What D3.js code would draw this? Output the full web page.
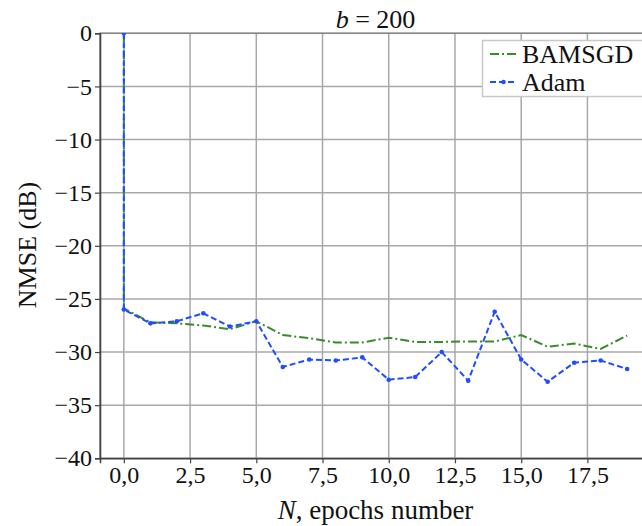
<!DOCTYPE html>
<html><head><meta charset="utf-8">
<script src="https://cdn.jsdelivr.net/npm/d3@7"></script>
<style>body{margin:0;background:#fff}svg{display:block}
svg text{font-family:"Liberation Serif","DejaVu Serif",serif;}
</style>
</head><body>
<svg id="c" width="642" height="526"></svg>
<script>
const epochs = [0, 0, 1, 2, 3, 4, 5, 6, 7, 8, 9, 10, 11, 12, 13, 14, 15, 16, 17, 18, 19];
const bamsgd = [0, -25.9, -27.2, -27.3, -27.5, -27.85, -27.1, -28.4, -28.7, -29.1, -29.1, -28.65, -29.05, -29.05, -29.0, -29.0, -28.4, -29.5, -29.2, -29.7, -28.45];
const adam = [0, -26.0, -27.3, -27.1, -26.35, -27.6, -27.1, -31.4, -30.7, -30.8, -30.5, -32.6, -32.35, -30.0, -32.7, -26.2, -30.7, -32.8, -31.0, -30.8, -31.6];
const xTicks = [0, 2.5, 5, 7.5, 10, 12.5, 15, 17.5];
const yTicks = [0, -5, -10, -15, -20, -25, -30, -35, -40];
const seriesNames = ["BAMSGD", "Adam"];

const svg = d3.select("#c");
const L = 100, R = 651, T = 33.3, B = 458.3;
const x = d3.scaleLinear().domain([-0.9, 19.9]).range([L, R]);
const y = d3.scaleLinear().domain([-40, 0]).range([B, T]);

// grid
const g = svg.append("g");
g.selectAll(".gx").data(xTicks).enter().append("line")
  .attr("x1", d => x(d)).attr("x2", d => x(d)).attr("y1", T).attr("y2", B)
  .attr("stroke", "#a8a8a8").attr("stroke-width", 1.5);
g.selectAll(".gy").data(yTicks).enter().append("line")
  .attr("x1", L).attr("x2", R).attr("y1", d => y(d)).attr("y2", d => y(d))
  .attr("stroke", "#a8a8a8").attr("stroke-width", 1.5);

// frame
svg.append("rect").attr("x", L).attr("y", T).attr("width", R - L).attr("height", B - T)
  .attr("fill", "none").attr("stroke", "#888").attr("stroke-width", 1.5);

// axes
const fmt = d => (d < 0 ? "\u2212" + Math.abs(d) : String(d));
const yAxis = svg.append("g").attr("transform", `translate(${L},0)`)
  .call(d3.axisLeft(y).tickValues(yTicks).tickSize(5).tickPadding(3).tickFormat(fmt));
const xAxis = svg.append("g").attr("transform", `translate(0,${B})`)
  .call(d3.axisBottom(x).tickValues(xTicks).tickSize(5).tickPadding(3)
    .tickFormat(d => d3.format(".1f")(d).replace(".", ",")));
[xAxis, yAxis].forEach(a => {
  a.attr("font-family", null);
  a.selectAll("path").attr("stroke", "#444").attr("stroke-width", 1.6);
  a.selectAll("line").attr("stroke", "#444").attr("stroke-width", 1.2);
  a.selectAll("text").attr("font-size", 24).attr("fill", "#111");
});

// lines
const pts = vals => epochs.map((e, i) => [e, vals[i]]);
const line = d3.line().x(d => x(d[0])).y(d => y(d[1]));
svg.append("clipPath").attr("id", "pc").append("rect")
  .attr("x", L).attr("y", T).attr("width", R - L).attr("height", B - T);
const gl = svg.append("g").attr("clip-path", "url(#pc)");
gl.append("path").datum(pts(bamsgd)).attr("d", line).attr("fill", "none")
  .attr("stroke", "#3a8a2e").attr("stroke-width", 2).attr("stroke-dasharray", "9,3,2,3");
gl.append("path").datum(pts(adam)).attr("d", line).attr("fill", "none")
  .attr("stroke", "#1f4dff").attr("stroke-width", 2).attr("stroke-dasharray", "6,3");
gl.selectAll(".m").data(pts(adam)).enter().append("circle")
  .attr("cx", d => x(d[0])).attr("cy", d => y(d[1])).attr("r", 2.3).attr("fill", "#1f4dff");

// title
const tt = svg.append("text").attr("x", (L + R) / 2).attr("y", 28).attr("text-anchor", "middle")
  .attr("font-size", 26).attr("fill", "#111");
tt.append("tspan").attr("font-style", "italic").text("b");
tt.append("tspan").text(" = 200");

// x label
const xl = svg.append("text").attr("x", (L + R) / 2).attr("y", 519).attr("text-anchor", "middle")
  .attr("font-size", 27).attr("fill", "#111");
xl.append("tspan").attr("font-style", "italic").text("N");
xl.append("tspan").text(", epochs number");

// y label
svg.append("text").attr("transform", `translate(36,245) rotate(-90)`)
  .attr("text-anchor", "middle").attr("font-size", 26).attr("fill", "#111")
  .text("NMSE (dB)");

// legend
const lg = svg.append("g");
lg.append("rect").attr("x", 482.5).attr("y", 40.5).attr("width", 175).attr("height", 56)
  .attr("fill", "#fff").attr("stroke", "#c8c8c8").attr("stroke-width", 1.5);
const styles = [
  {c: "#3a8a2e", dash: "9,3,2,3", marker: false},
  {c: "#1f4dff", dash: "6,3", marker: true}
];
seriesNames.forEach((n, i) => {
  const yy = 54 + i * 28;
  lg.append("line").attr("x1", 490).attr("x2", 517).attr("y1", yy).attr("y2", yy)
    .attr("stroke", styles[i].c).attr("stroke-width", 2).attr("stroke-dasharray", styles[i].dash);
  if (styles[i].marker) lg.append("circle").attr("cx", 503.5).attr("cy", yy).attr("r", 2.3).attr("fill", styles[i].c);
  lg.append("text").attr("x", 522).attr("y", yy + 9).attr("font-size", 26)
    .attr("fill", "#111").text(n);
});
</script>
</body></html>
